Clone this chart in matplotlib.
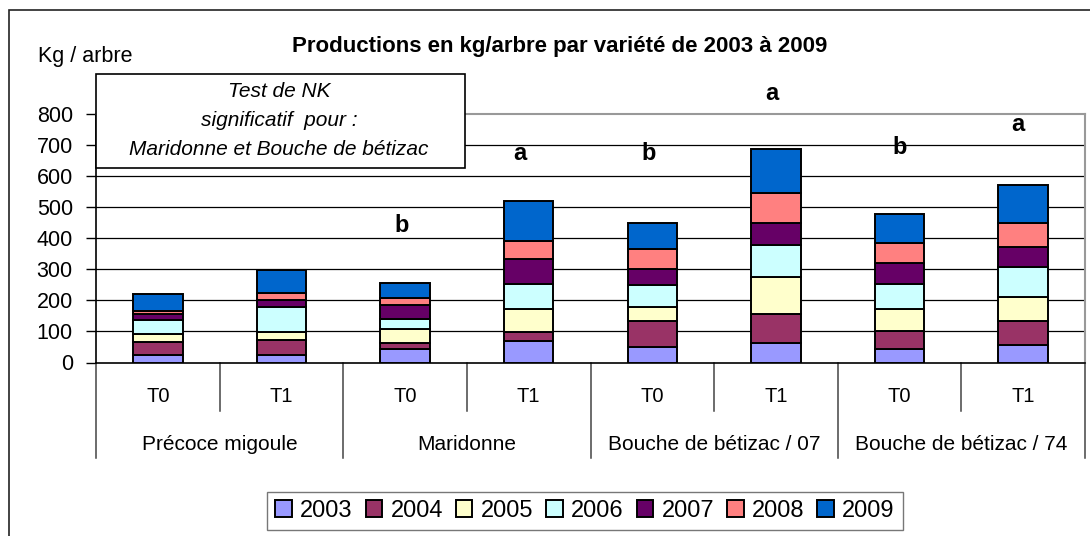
import matplotlib
matplotlib.use("Agg")
import matplotlib.pyplot as plt
from matplotlib.patches import Rectangle
from matplotlib.lines import Line2D

plt.rcParams['font.family'] = ['Liberation Sans', 'DejaVu Sans']

categories = ["T0", "T1", "T0", "T1", "T0", "T1", "T0", "T1"]
groups = ["Précoce migoule", "Maridonne", "Bouche de bétizac / 07", "Bouche de bétizac / 74"]
years = ["2003", "2004", "2005", "2006", "2007", "2008", "2009"]

v2003 = [25, 25, 45, 70, 49, 63, 45, 56]
v2004 = [41, 48, 19, 27, 86, 92, 58, 78]
v2005 = [25, 24, 44, 76, 45, 121, 70, 77]
v2006 = [45, 82, 32, 79, 70, 103, 79, 96]
v2007 = [21, 21, 46, 82, 52, 72, 70, 65]
v2008 = [10, 24, 23, 59, 64, 96, 64, 77]
v2009 = [53, 73, 48, 129, 85, 142, 92, 122]
series = [v2003, v2004, v2005, v2006, v2007, v2008, v2009]
colors = ["#9999FF", "#993366", "#FFFFCC", "#CCFFFF", "#660066", "#FF8080", "#0066CC"]

letters = ["b", "a", "b", "a", "b", "a"]
letter_x = [1.97, 2.93, 3.97, 4.97, 6.0, 6.96]
letter_y = [443, 675, 675, 868, 694, 768]

W, H = 1090, 536
fig = plt.figure(figsize=(W / 100, H / 100), dpi=100)
fig.patch.set_facecolor("white")

def fx(px):
    return px / W

def fy(py):
    return 1 - py / H

left, right, top, bottom = 96, 1085, 114.3, 362.5
ax = fig.add_axes([fx(left), fy(bottom), fx(right) - fx(left), fy(top) - fy(bottom)])

x = list(range(len(categories)))
base = [0] * len(categories)
handles = []
for yr, vals, c in zip(years, series, colors):
    b = ax.bar(x, vals, width=0.4, bottom=base, color=c, edgecolor="black",
               linewidth=1.4, label=yr, zorder=3)
    handles.append(b)
    base = [bb + v for bb, v in zip(base, vals)]

ax.set_xlim(-0.5, len(categories) - 0.5)
ax.set_ylim(0, 800)
ax.set_yticks(range(0, 801, 100))
ax.tick_params(axis="y", direction="out", length=7.2, width=1, labelsize=15.5, pad=9.5)
ax.set_xticks([])
for g in range(100, 800, 100):
    ax.axhline(g, color="black", lw=0.9, zorder=1)
ax.spines["top"].set_color("#999999")
ax.spines["right"].set_color("#999999")
ax.spines["top"].set_linewidth(1.5)
ax.spines["right"].set_linewidth(1.5)
ax.spines["left"].set_linewidth(1.2)
ax.spines["bottom"].set_linewidth(1.2)

# category table below axis
tr = ax.get_xaxis_transform()
for i, lab in enumerate(categories):
    ax.text(i, -0.158, lab, transform=tr, ha="center", va="baseline", fontsize=14.5)
for gi, g in enumerate(groups):
    ax.text(2 * gi + 0.5, -0.3525, g, transform=tr, ha="center", va="baseline", fontsize=15)
for k in range(len(categories) + 1):
    xb = k - 0.5
    ybot = -0.386 if k % 2 == 0 else -0.194
    ax.add_line(Line2D([xb, xb], [0, ybot], transform=tr, color="#444444", lw=1.1, clip_on=False))

for lt, lx, ly in zip(letters, letter_x, letter_y):
    ax.text(lx, ly, lt, ha="center", va="center", fontsize=17, fontweight="bold", clip_on=False)

# outer frame
fig.patches.append(Rectangle((fx(9), -0.05), 1.2, fy(10) + 0.05, transform=fig.transFigure,
                             fill=False, edgecolor="#222222", lw=1.2))

# title and axis label
fig.text(fx(560), fy(52), "Productions en kg/arbre par variété de 2003 à 2009",
         ha="center", va="baseline", fontsize=16, fontweight="bold")
fig.text(fx(38), fy(62.3), "Kg / arbre", ha="left", va="baseline", fontsize=15.5)

# note box
fig.patches.append(Rectangle((fx(96), fy(168)), fx(465) - fx(96), fy(74) - fy(168),
                             transform=fig.transFigure, facecolor="white",
                             edgecolor="black", lw=1.2, zorder=5))
for txt, py in zip(["Test de NK", "significatif  pour :", "Maridonne et Bouche de bétizac"],
                   [97, 126, 155]):
    fig.text(fx(279), fy(py), txt, ha="center", va="baseline", fontsize=15,
             style="italic", zorder=6)

leg = fig.legend(handles=handles, labels=years, loc="center", ncol=7,
                 bbox_to_anchor=(fx(585), fy(511)), fontsize=17, frameon=True,
                 fancybox=False, edgecolor="#555555", handlelength=0.7,
                 handleheight=0.7, handletextpad=0.35, columnspacing=0.55,
                 borderpad=0.35, borderaxespad=0)
leg.get_frame().set_linewidth(1.0)

fig.savefig("out.png", dpi=100)
